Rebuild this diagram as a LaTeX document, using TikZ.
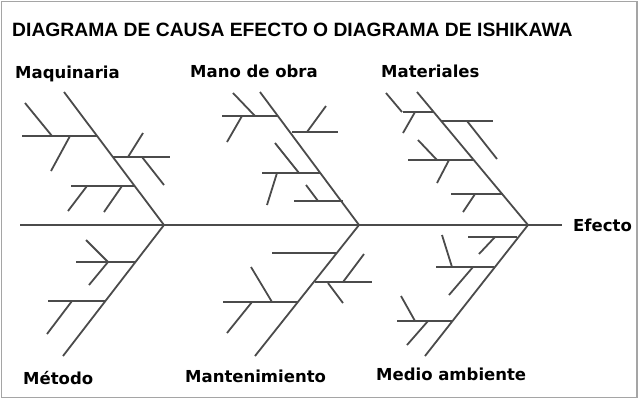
\documentclass[tikz,border=0pt]{standalone}
\usepackage{fontspec}
\setmainfont{DejaVu Sans}
\newfontfamily\titlefont{Liberation Sans}
\definecolor{linegray}{RGB}{75,75,75}
\definecolor{framegray}{RGB}{165,165,165}
\begin{document}
\begin{tikzpicture}[x=1pt,y=-1pt,
  bone/.style={line width=1.8pt, draw=linegray},
  lab/.style={font=\bfseries\fontsize{16.5}{18}\selectfont, anchor=base west, inner sep=0pt, text=black},
  ttl/.style={font=\titlefont\bfseries\fontsize{19.3}{22}\selectfont, anchor=base west, inner sep=0pt, text=black}]
\useasboundingbox (0,0) rectangle (640,402);
\fill[white] (0,0) rectangle (640,402);
\draw[framegray, line width=1.5pt] (1.5,1.5) rectangle (637,397.5);

\node[ttl] (title) at (12,36) {DIAGRAMA DE CAUSA EFECTO O DIAGRAMA DE ISHIKAWA};

% spine
\coordinate (S0) at (20,225);
\coordinate (S1) at (562,225);
\draw[bone] (S0) -- (S1);

% rib heads on the spine and rib tails
\coordinate (H1) at (164,225);
\coordinate (H2) at (359,225);
\coordinate (H3) at (528,225);
\coordinate (Tmaq) at (64,92);
\coordinate (Tmet) at (63,356);
\coordinate (Tmo) at (260,92);
\coordinate (Tman) at (255,356);
\coordinate (Tmat) at (417,92);
\coordinate (Tmed) at (425,356);
\draw[bone] (Tmaq) -- (H1);
\draw[bone] (Tmet) -- (H1);
\draw[bone] (Tmo) -- (H2);
\draw[bone] (Tman) -- (H2);
\draw[bone] (Tmat) -- (H3);
\draw[bone] (Tmed) -- (H3);

% Maquinaria
\draw[bone] (22,136)--(97,136); \draw[bone] (25,103)--(52,136); \draw[bone] (70,136)--(51,171);
\draw[bone] (113,157)--(170,157); \draw[bone] (143,133)--(128,157); \draw[bone] (142,157)--(164,185);
\draw[bone] (71,186)--(135,186); \draw[bone] (87,186)--(68,211); \draw[bone] (122,186)--(104,212);

% Metodo
\draw[bone] (76,262)--(135,262); \draw[bone] (86,240)--(108,262); \draw[bone] (108,262)--(89,285);
\draw[bone] (48,301)--(106,301); \draw[bone] (72,301)--(47,334);

% Mano de obra
\draw[bone] (222,116)--(278,116); \draw[bone] (233,93)--(255,116); \draw[bone] (242,116)--(227,142);
\draw[bone] (292,132)--(338,132); \draw[bone] (326,106)--(307,132);
\draw[bone] (262,173)--(320,173); \draw[bone] (275,143)--(299,173); \draw[bone] (277,173)--(267,205);
\draw[bone] (294,201)--(343,201); \draw[bone] (306,185)--(318,201);

% Mantenimiento
\draw[bone] (272,253)--(336,253);
\draw[bone] (315,282)--(372,282); \draw[bone] (364,254)--(343,282); \draw[bone] (328,283)--(343,303);
\draw[bone] (223,302)--(298,302); \draw[bone] (251,267)--(272,302); \draw[bone] (252,302)--(227,333);

% Materiales
\draw[bone] (403,112)--(433,112); \draw[bone] (386,93)--(402,112); \draw[bone] (415,112)--(403,133);
\draw[bone] (441,121)--(493,121); \draw[bone] (467,121)--(497,159);
\draw[bone] (408,160)--(474,160); \draw[bone] (418,140)--(437,160); \draw[bone] (449,160)--(437,183);
\draw[bone] (451,194)--(503,194); \draw[bone] (475,194)--(463,212);

% Medio ambiente
\draw[bone] (468,237)--(517,237); \draw[bone] (495,237)--(479,254);
\draw[bone] (436,267)--(494,267); \draw[bone] (442,235)--(452,267); \draw[bone] (473,267)--(449,295);
\draw[bone] (397,321)--(452,321); \draw[bone] (401,296)--(415,321); \draw[bone] (428,321)--(407,345);

% labels
\node[lab] (lmaq) at (15,78) {Maquinaria};
\node[lab] (lmo) at (190,77) {Mano de obra};
\node[lab] (lmat) at (381,77) {Materiales};
\node[lab] (lefe) at (573,231) {Efecto};
\node[lab] (lmet) at (23,384) {Método};
\node[lab] (lman) at (185,382) {Mantenimiento};
\node[lab] (lmed) at (376,380) {Medio ambiente};
\end{tikzpicture}
\end{document}
